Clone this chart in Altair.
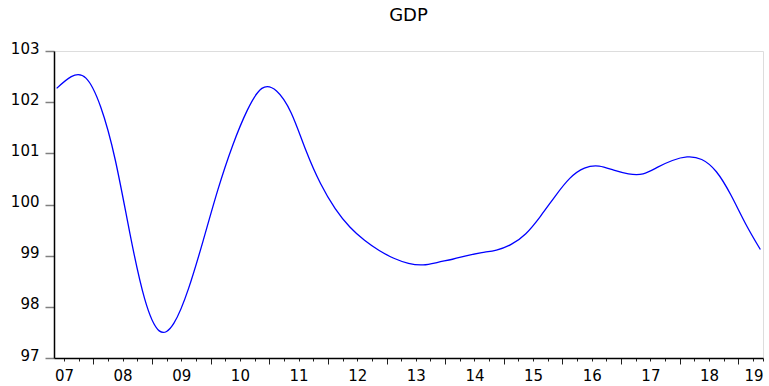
import altair as alt
import pandas as pd

# Quarterly observations, 2007Q2 .. 2019Q2
start_period = "2007Q2"
gdp = [
    102.27, 102.50, 102.47, 101.91, 100.87, 99.43, 98.16, 97.53,
    97.68, 98.36, 99.30, 100.29, 101.15, 101.84, 102.27, 102.22,
    101.79, 101.06, 100.41, 99.92, 99.56, 99.30, 99.10, 98.95,
    98.85, 98.82, 98.87, 98.93, 99.00, 99.06, 99.11, 99.22,
    99.43, 99.77, 100.16, 100.51, 100.71, 100.75, 100.67, 100.60,
    100.60, 100.73, 100.86, 100.93, 100.88, 100.64, 100.18, 99.62,
    99.12,
]
year_labels = ["07", "08", "09", "10", "11", "12", "13", "14", "15", "16", "17", "18", "19"]
y_ticks = [97, 98, 99, 100, 101, 102, 103]

periods = pd.period_range(start_period, periods=len(gdp), freq="Q")
t = [p.year + (p.quarter - 1) / 4 + 0.125 for p in periods]  # mid-quarter position
df = pd.DataFrame({"t": t, "gdp": gdp})

x_min, x_max = 2007.33, 2019.42
first_year = 2007
tick_vals = [y + q / 4 for y in range(first_year, first_year + len(year_labels))
             for q in range(4) if x_min <= y + q / 4 <= x_max]
tick_vals.append(x_max)

lab_arr = "[" + ",".join("'%s'" % s for s in year_labels) + "]"
label_expr = (f"(datum.value % 1 == 0.5 || datum.value >= {x_max - 0.001}) ? "
              f"{lab_arr}[floor(datum.value) - {first_year}] : ''")

FONT = "DejaVu Sans"

chart = alt.Chart(df).mark_line(
    color="#0000ff", strokeWidth=1.3, interpolate="natural"
).encode(
    x=alt.X(
        "t:Q",
        scale=alt.Scale(domain=[x_min, x_max], nice=False, zero=False),
        axis=alt.Axis(
            values=tick_vals, labelExpr=label_expr, title=None, grid=False,
            tickSize={"condition": {"test": "datum.value % 1 == 0", "value": 6}, "value": 3},
            tickColor="#202020", tickWidth=1, domainColor="black", domainWidth=1.5,
            labelFont=FONT, labelFontSize=15, labelColor="black", labelPadding=7,
            labelFlush=5, labelOverlap=False,
        ),
    ),
    y=alt.Y(
        "gdp:Q",
        scale=alt.Scale(domain=[97, 103], nice=False, zero=False),
        axis=alt.Axis(
            values=y_ticks, title=None, grid=False, tickSize=9, tickColor="#808080",
            tickWidth=1.5, domainColor="black", domainWidth=1.5,
            labelFont=FONT, labelFontSize=15, labelColor="black", labelPadding=6,
            labelOffset=-3, labelOverlap=False, format="d",
        ),
    ),
).properties(
    width=709,
    height=307,
    title=alt.TitleParams("GDP", font=FONT, fontSize=18, fontWeight="normal",
                          color="black", anchor="middle", offset=16),
    autosize=alt.AutoSizeParams(type="none"),
    padding={"left": 54, "top": 51, "right": 6, "bottom": 28},
).configure_view(
    stroke="black", strokeWidth=1
).configure(background="white")

chart.save("out.html", embed_options={"renderer": "svg", "actions": False})
